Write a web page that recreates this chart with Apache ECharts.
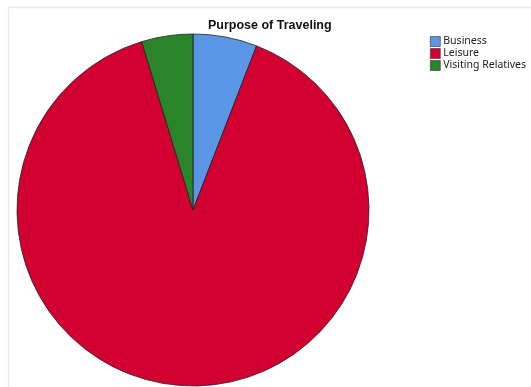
<!DOCTYPE html>
<html>
<head>
<meta charset="utf-8">
<script src="https://cdn.jsdelivr.net/npm/echarts@6/dist/echarts.min.js"></script>
<style>
  html, body { margin: 0; padding: 0; background: #fff; }
  #main { width: 531px; height: 387px; }
</style>
</head>
<body>
<div id="main"></div>
<script>
// 数据
const categories = ["Business", "Leisure", "Visiting Relatives"];
const counts = [5, 76, 4];
const colors = ["#5b96e6", "#d20030", "#2a852a"];

const chart = echarts.init(document.getElementById("main"));

chart.setOption({
  animation: false,
  title: {
    text: "Purpose of Traveling",
    left: 203,
    top: 14,
    textStyle: {
      fontFamily: "Liberation Sans",
      fontSize: 12.5,
      fontWeight: "bold",
      color: "#111",
    },
  },
  legend: {
    orient: "vertical",
    left: 425,
    top: 31,
    itemWidth: 10,
    itemHeight: 10,
    itemGap: 1,
    icon: "rect",
    selectedMode: false,
    data: categories,
    itemStyle: { borderColor: "#333", borderWidth: 0.6 },
    textStyle: {
      fontFamily: "Noto Sans",
      fontSize: 10.5,
      color: "#222",
      padding: [0, 0, 0, -2],
    },
  },
  graphic: [
    {
      // 外框
      type: "polyline",
      shape: { points: [[8.5, 387], [8.5, 7.5], [531, 7.5]] },
      style: { stroke: "#ececec", lineWidth: 1.5, fill: null },
      silent: true,
    },
  ],
  series: [
    {
      type: "pie",
      center: [193, 210],
      radius: 176,
      startAngle: 90,
      clockwise: true,
      label: { show: false },
      labelLine: { show: false },
      emphasis: { disabled: true },
      itemStyle: { borderColor: "#222", borderWidth: 0.8 },
      data: categories.map((name, i) => ({
        name: name,
        value: counts[i],
        itemStyle: { color: colors[i] },
      })),
    },
  ],
});
</script>
</body>
</html>
